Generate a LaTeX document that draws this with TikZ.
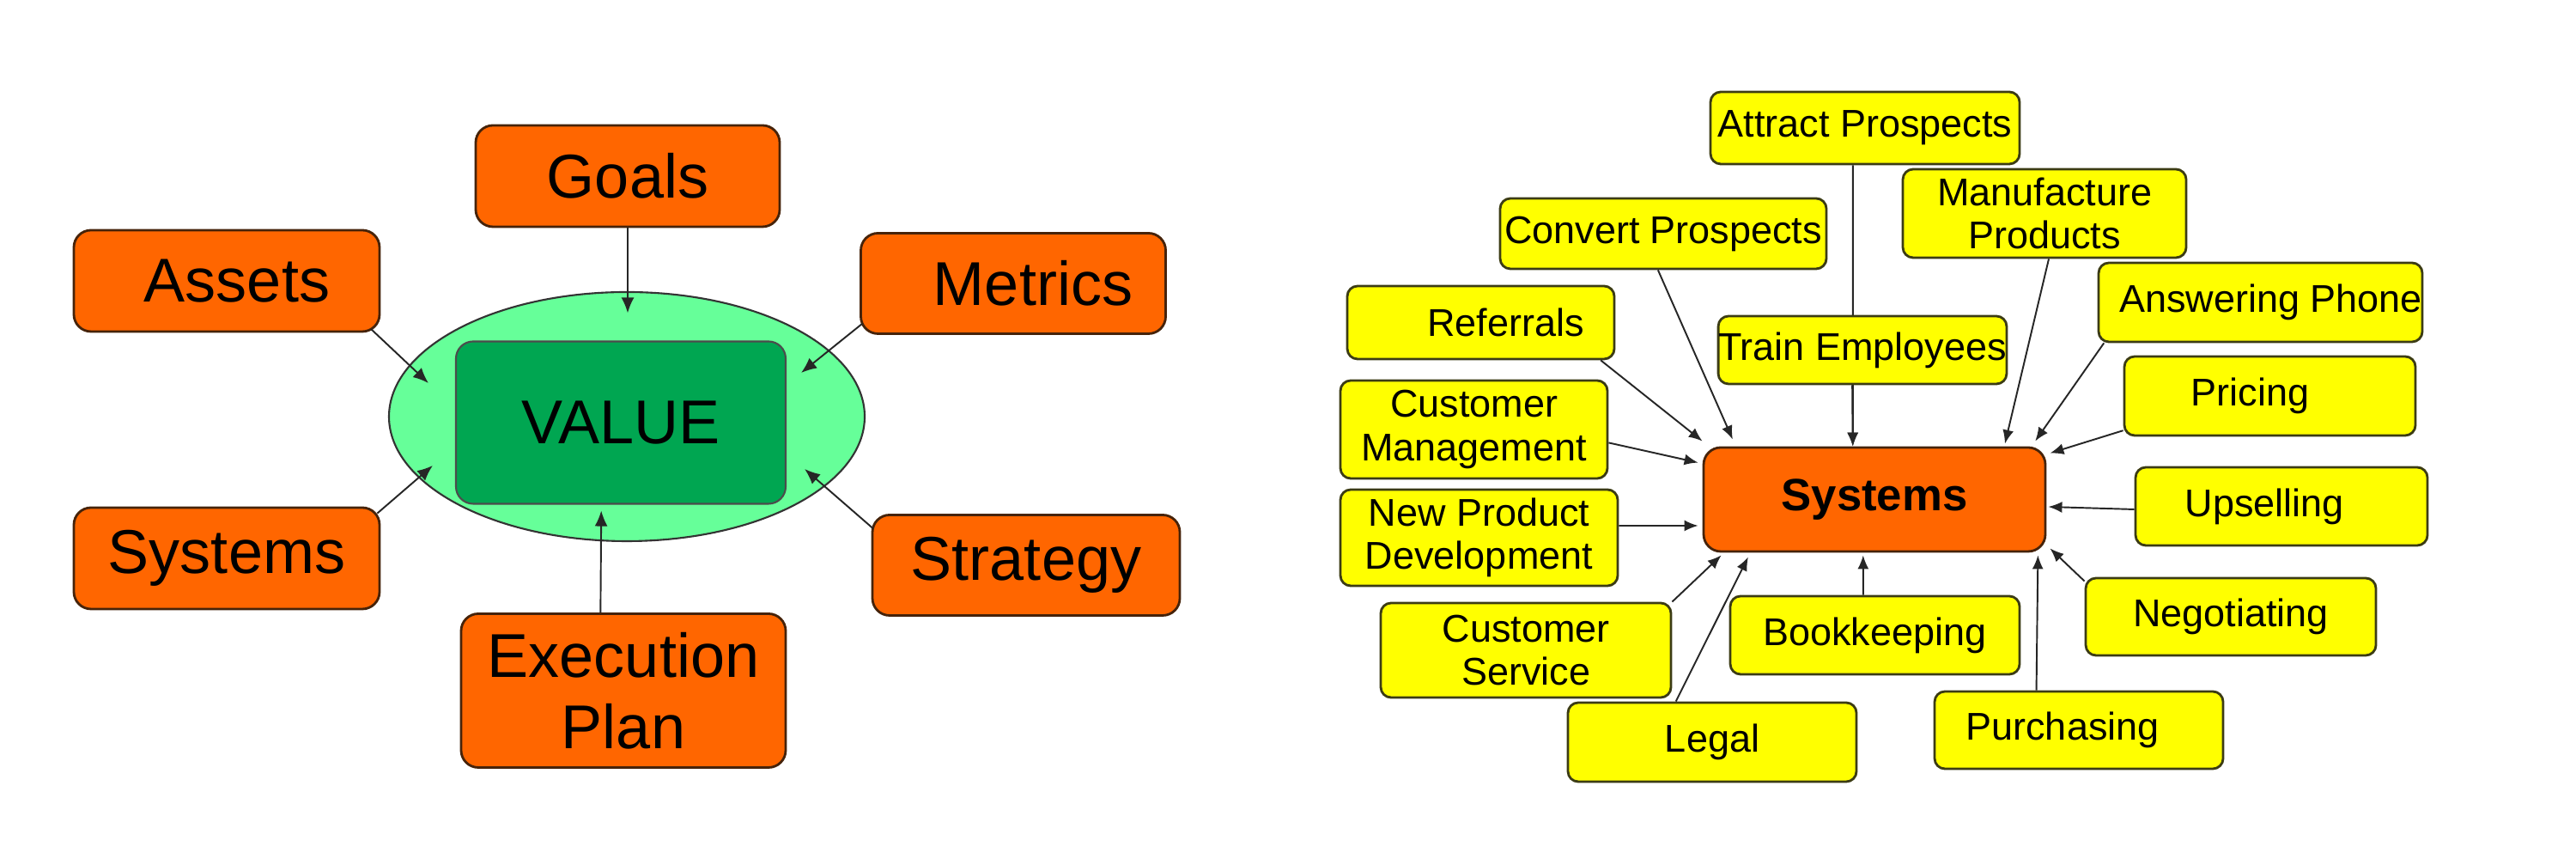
\documentclass[tikz,border=0pt]{standalone}
\usepackage{fontspec}
\setmainfont{Liberation Sans}
\usetikzlibrary{calc,arrows.meta,shapes.geometric}
\definecolor{orng}{RGB}{255,102,0}
\definecolor{yel}{RGB}{255,255,0}
\definecolor{lgreen}{RGB}{102,255,153}
\definecolor{dgreen}{RGB}{0,166,81}
\definecolor{obord}{RGB}{70,35,10}
\definecolor{ybord}{RGB}{60,60,20}
\tikzset{
  bigbox/.style={draw=obord,line width=0.8pt,fill=orng,rounded corners=0.2cm,inner sep=0pt,align=center,font=\fontsize{20.5}{23.5}\selectfont},
  smallbox/.style={draw=ybord,line width=0.8pt,fill=yel,rounded corners=0.12cm,inner sep=0pt,align=center,font=\fontsize{12.8}{14.3}\selectfont},
  hubbox/.style={draw=obord,line width=0.8pt,fill=orng,rounded corners=0.2cm,inner sep=0pt,font=\fontsize{15}{17}\selectfont\bfseries},
  conn/.style={draw=black!85,line width=0.55pt,-{Latex[length=0.18cm,width=0.15cm]}},
  sconn/.style={draw=black!85,line width=0.55pt,-{Latex[length=0.16cm,width=0.13cm]}},
  sz/.style 2 args={minimum width=#1cm,minimum height=#2cm}
}
\begin{document}
\begin{tikzpicture}
\useasboundingbox[fill=white] (0,0) rectangle (30,10);
% ---------------- left diagram ----------------
\node[ellipse,draw=black!80,line width=0.6pt,fill=lgreen,minimum width=5.54cm,minimum height=2.90cm] (ell) at (7.30,5.15) {};
\node[draw=black!70,line width=0.6pt,fill=dgreen,rounded corners=0.2cm,inner sep=0pt,minimum width=3.84cm,minimum height=1.89cm,font=\fontsize{20.5}{23.5}\selectfont] (val) at (7.23,5.08) {VALUE};
\node[bigbox,sz={3.54}{1.18}] (goals) at (7.31,7.95) {Goals};
\node[bigbox,sz={3.56}{1.18}] (assets) at (2.64,6.73) {\hspace*{0.24cm}Assets};
\node[bigbox,sz={3.55}{1.17}] (metrics) at (11.80,6.70) {\hspace*{0.46cm}Metrics};
\node[bigbox,sz={3.56}{1.18}] (sysL) at (2.64,3.50) {Systems};
\node[bigbox,sz={3.58}{1.17}] (strat) at (11.95,3.42) {Strategy};
\node[bigbox,sz={3.78}{1.79}] (exec) at (7.26,1.96) {Execution\\Plan};
\draw[conn] (goals.south) -- ($(val.north)+(0.08,0.32)$);
\draw[conn] ($(assets.south east)+(-0.11,0.04)$) -- ($(val.west)+(-0.31,0.46)$);
\draw[conn] ($(metrics.south west)+(0.03,0.13)$) -- ($(val.east)+(0.17,0.58)$);
\draw[conn] ($(sysL.north east)+(-0.04,-0.08)$) -- ($(val.west)+(-0.26,-0.50)$);
\draw[conn] ($(strat.north west)+(0.02,-0.17)$) -- ($(val.east)+(0.21,-0.54)$);
\draw[conn] ($(exec.north west)!0.43!(exec.north east)$) -- ($(val.south west)!0.441!(val.south east)+(0,-0.07)$);
% ---------------- right diagram ----------------
\node[hubbox,sz={3.98}{1.21}] (sysR) at (21.83,4.185) {Systems};
\node[smallbox,sz={3.60}{0.84}] (attr) at (21.72,8.51) {Attract Prospects};
\draw[sconn] ($(attr.south west)!0.461!(attr.south east)$) -- ($(sysR.north west)!0.437!(sysR.north east)$);
\node[smallbox,sz={3.18}{0.79}] (train) at (21.69,5.925) {Train Employees};
\node[smallbox,sz={3.80}{0.82}] (conv) at (19.37,7.28) {Convert Prospects};
\node[smallbox,sz={3.30}{1.03}] (man) at (23.81,7.515) {Manufacture\\Products};
\node[smallbox,sz={3.11}{0.85}] (ref) at (17.245,6.245) {\hspace*{0.58cm}Referrals};
\node[smallbox,sz={3.77}{0.92}] (ans) at (26.325,6.48) {\hspace*{0.24cm}Answering Phone};
\node[smallbox,sz={3.39}{0.92}] (pri) at (26.435,5.39) {Pricing\hspace*{0.46cm}};
\node[smallbox,sz={3.11}{1.14}] (cm) at (17.165,5.00) {Customer\\Management};
\node[smallbox,sz={3.23}{1.12}] (np) at (17.225,3.74) {New Product\\Development};
\node[smallbox,sz={3.40}{0.91}] (ups) at (26.57,4.105) {Upselling\hspace*{0.40cm}};
\node[smallbox,sz={3.38}{1.10}] (cs) at (17.77,2.43) {Customer\\Service};
\node[smallbox,sz={3.37}{0.91}] (bk) at (21.835,2.605) {Bookkeeping};
\node[smallbox,sz={3.38}{0.90}] (neg) at (25.98,2.82) {Negotiating};
\node[smallbox,sz={3.36}{0.92}] (leg) at (19.94,1.36) {Legal};
\node[smallbox,sz={3.36}{0.90}] (pur) at (24.21,1.50) {Purchasing\hspace*{0.38cm}};
\draw[sconn] ($(ref.south west)!0.945!(ref.south east)$) -- ($(sysR.north west)+(0,0.06)$);
\draw[sconn] ($(conv.south west)!0.484!(conv.south east)$) -- ($(sysR.north west)!0.088!(sysR.north east)+(0,0.08)$);
\draw[sconn] ($(train.south west)!0.465!(train.south east)$) -- ($(sysR.north west)!0.437!(sysR.north east)$);
\draw[sconn] ($(man.south west)!0.515!(man.south east)$) -- ($(sysR.north west)!0.879!(sysR.north east)+(0,0.03)$);
\draw[sconn] ($(ans.south west)!0.02!(ans.south east)$) -- ($(sysR.north west)!0.967!(sysR.north east)+(0,0.06)$);
\draw[sconn] ($(pri.south west)!0.076!(pri.north west)$) -- ($(sysR.north east)+(0.04,-0.08)$);
\draw[sconn] ($(cm.south east)!0.368!(cm.north east)$) -- ($(sysR.north west)+(-0.05,-0.19)$);
\draw[sconn] ($(np.east)+(0,0.14)$) -- ($(sysR.west)+(-0.05,-0.305)$);
\draw[sconn] ($(ups.west)+(0,-0.035)$) -- ($(sysR.east)+(0.02,-0.085)$);
\draw[sconn] (cs.north east) -- ($(sysR.south west)!0.055!(sysR.south east)+(0,-0.03)$);
\draw[sconn] ($(leg.north west)!0.375!(leg.north east)$) -- ($(sysR.south west)!0.133!(sysR.south east)+(0,-0.05)$);
\draw[sconn] ($(bk.north west)!0.46!(bk.north east)$) -- ($(sysR.south west)!0.467!(sysR.south east)+(0,-0.03)$);
\draw[sconn] ($(pur.north west)!0.354!(pur.north east)$) -- ($(sysR.south west)!0.975!(sysR.south east)+(0,-0.03)$);
\draw[sconn] ($(neg.north west)+(0,-0.05)$) -- ($(sysR.south east)+(0.04,0.05)$);
\end{tikzpicture}
\end{document}
